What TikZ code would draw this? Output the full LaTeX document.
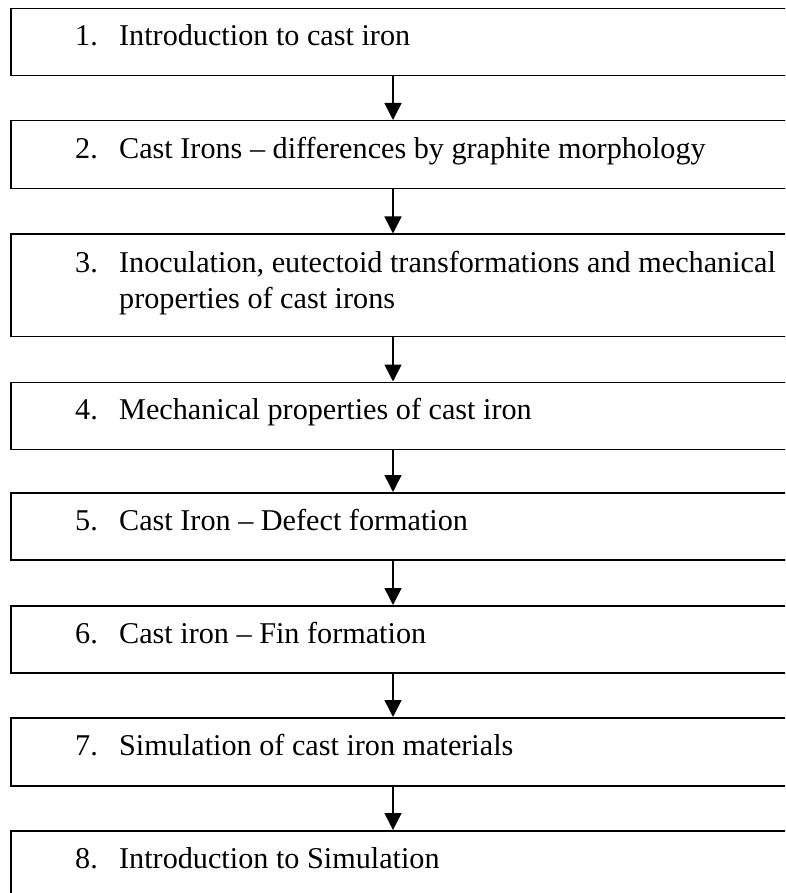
\documentclass[tikz,border=0pt]{standalone}
\usepackage{fontspec}
\setmainfont{Liberation Serif}
\usepackage{tikz}
\usetikzlibrary{arrows.meta}
\usetikzlibrary{positioning}
\usetikzlibrary{calc}

\begin{document}
\begin{tikzpicture}[x=1pt,y=-1pt]
    \useasboundingbox (0,0) rectangle (785,893);
    \clip (0,0) rectangle (785,893);
    \coordinate (ax) at (393,0);
    \begin{scope}[every node/.style={draw,line width=1.5pt,rectangle,anchor=north west,minimum width=820pt,inner sep=0pt}]
      \node[minimum height=67pt] (b1) at (10,8) {};
      \node[minimum height=68pt] (b2) at (10,120) {};
      \node[minimum height=102pt] (b3) at (10,233.5) {};
      \node[minimum height=67pt] (b4) at (10,381.5) {};
      \node[minimum height=67pt] (b5) at (10,492) {};
      \node[minimum height=67pt] (b6) at (10,605) {};
      \node[minimum height=68pt] (b7) at (10,717) {};
      \node[minimum height=90pt] (b8) at (10,830) {};
    \end{scope}
    \begin{scope}[every node/.style={inner sep=0pt,anchor=base west,align=left,font=\fontsize{30.2pt}{36.5pt}\selectfont}]
      \node (t1) at (119,46) {\llap{\makebox[44pt][l]{1.}}Introduction to cast iron};
      \node (t2) at (119,159) {\llap{\makebox[44pt][l]{2.}}Cast Irons – differences by graphite morphology};
      \node (t3) at (119,308.5) {\llap{\makebox[44pt][l]{3.}}Inoculation, eutectoid transformations and mechanical\\properties of cast irons};
      \node (t4) at (119,419.5) {\llap{\makebox[44pt][l]{4.}}Mechanical properties of cast iron};
      \node (t5) at (119,530) {\llap{\makebox[44pt][l]{5.}}Cast Iron – Defect formation};
      \node (t6) at (119,643) {\llap{\makebox[44pt][l]{6.}}Cast iron – Fin formation};
      \node (t7) at (119,755) {\llap{\makebox[44pt][l]{7.}}Simulation of cast iron materials};
      \node (t8) at (119,868) {\llap{\makebox[44pt][l]{8.}}Introduction to Simulation};
    \end{scope}
    \begin{scope}[every edge/.style={draw=black,line width=1.5pt,-{Triangle[length=17pt,width=17pt]}}]
      \path (b1.south -| ax) edge (b2.north -| ax);
      \path (b2.south -| ax) edge (b3.north -| ax);
      \path (b3.south -| ax) edge (b4.north -| ax);
      \path (b4.south -| ax) edge (b5.north -| ax);
      \path (b5.south -| ax) edge (b6.north -| ax);
      \path (b6.south -| ax) edge (b7.north -| ax);
      \path (b7.south -| ax) edge (b8.north -| ax);
    \end{scope}
\end{tikzpicture}
\end{document}
